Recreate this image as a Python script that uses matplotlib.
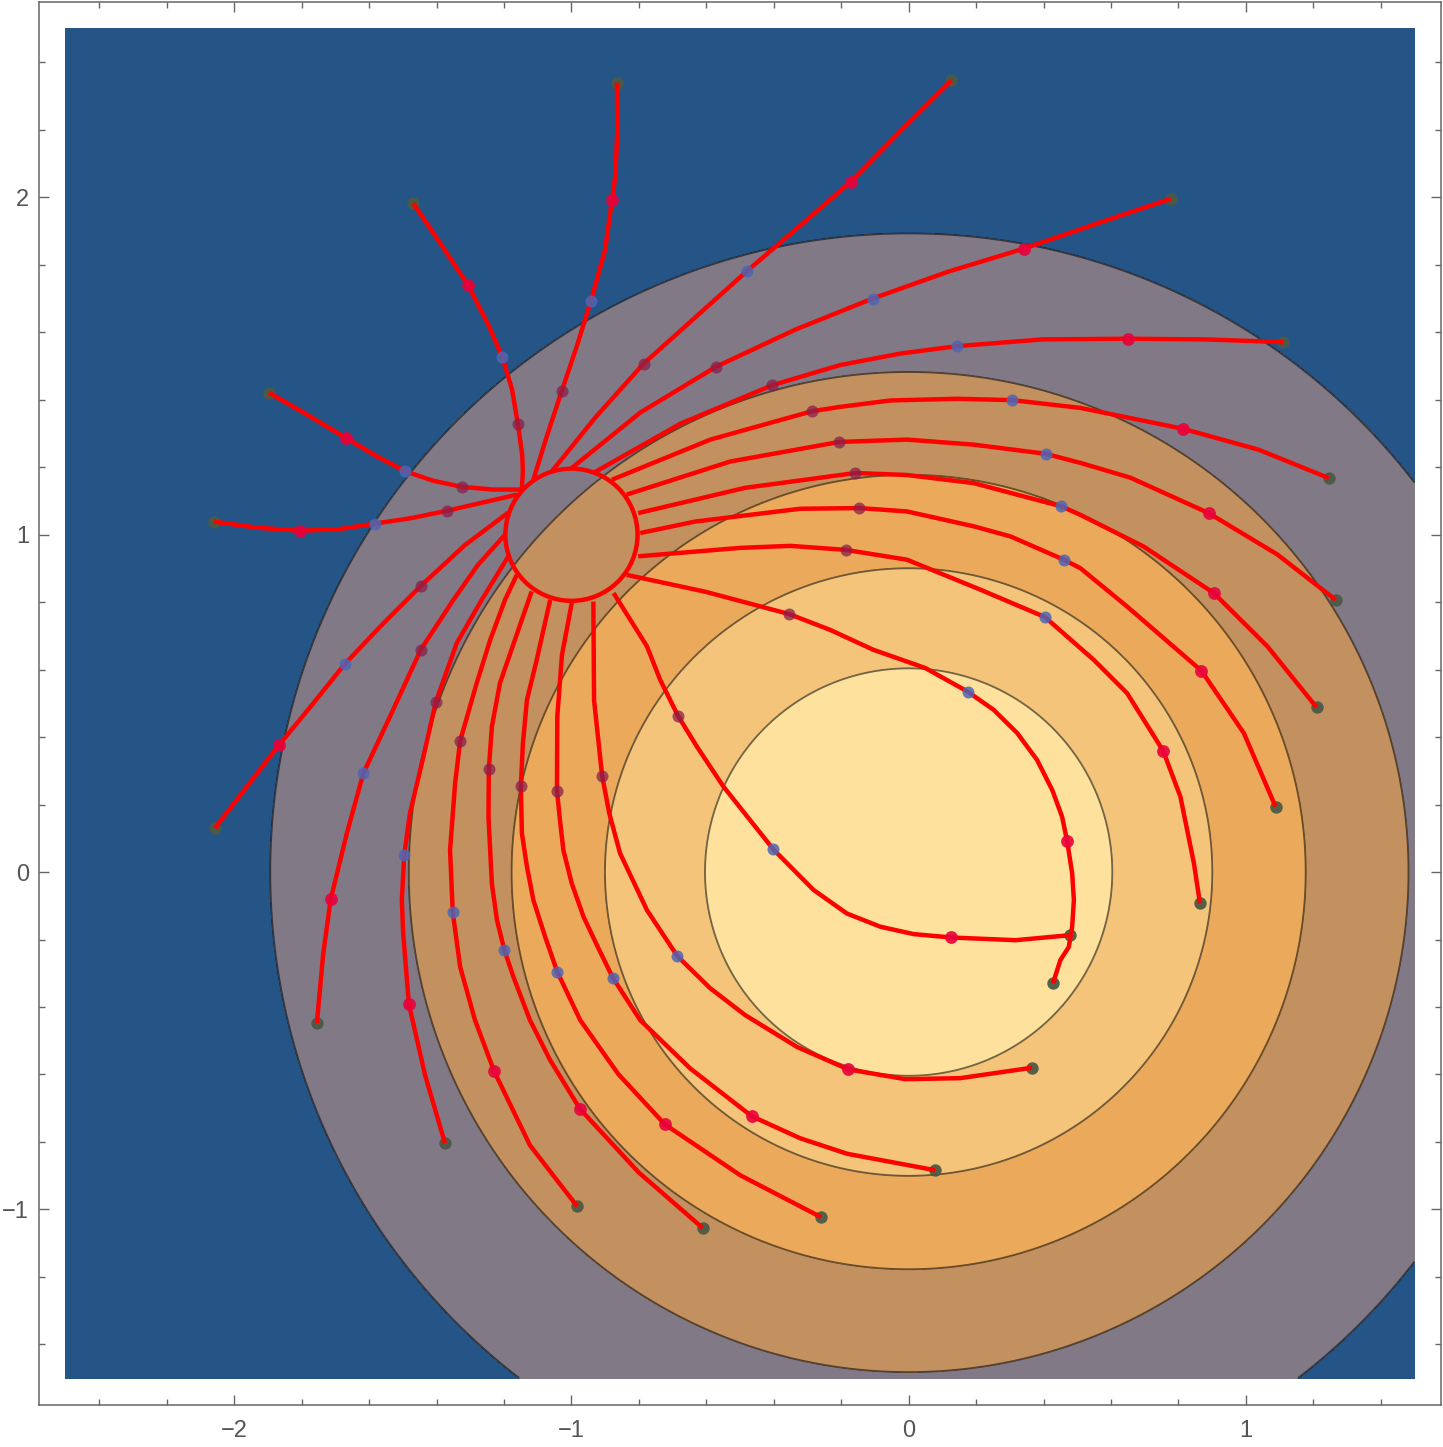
import matplotlib
matplotlib.use("Agg")
import matplotlib.pyplot as plt
import numpy as np
from matplotlib.patches import Circle
from matplotlib.ticker import MultipleLocator

plt.rcParams['font.family'] = ['Liberation Sans', 'DejaVu Sans']

# fondo: niveles del contorno y colores de relleno
levels = [0, 1/6, 2/6, 3/6, 4/6, 5/6, 1]
fill_colors = ['#255487', '#817a86', '#c3915f', '#ebaa5b', '#f4c47b', '#fee19c']

# disco objetivo
disk_center = (-1.0, 1.0)
disk_radius = 0.196

# trayectorias (inicio -> borde del disco)
A_x = [-2.057, -1.867, -1.769, -1.672, -1.559, -1.446, -1.315, -1.188]
A_y = [0.131, 0.377, 0.496, 0.617, 0.736, 0.849, 0.970, 1.065]
B_x = [-2.060, -1.933, -1.805, -1.692, -1.583, -1.476, -1.369, -1.265, -1.161]
B_y = [1.039, 1.021, 1.012, 1.016, 1.033, 1.049, 1.071, 1.095, 1.119]
C_x = [-1.897, -1.784, -1.669, -1.580, -1.493, -1.410, -1.325, -1.235, -1.147]
C_y = [1.421, 1.356, 1.287, 1.234, 1.188, 1.160, 1.142, 1.134, 1.134]
D_x = [-1.469, -1.387, -1.306, -1.247, -1.205, -1.176, -1.159, -1.146, -1.144, -1.147]
D_y = [1.982, 1.861, 1.739, 1.623, 1.527, 1.430, 1.329, 1.237, 1.187, 1.139]
E_x = [-0.865, -0.864, -0.870, -0.880, -0.900, -0.942, -0.984, -1.029, -1.073, -1.113]
E_y = [2.340, 2.192, 2.063, 1.991, 1.846, 1.694, 1.559, 1.425, 1.292, 1.163]
F_x = [0.127, -0.022, -0.171, -0.321, -0.480, -0.633, -0.786, -0.927, -1.058]
F_y = [2.347, 2.199, 2.047, 1.917, 1.781, 1.644, 1.507, 1.350, 1.188]
G_x = [0.777, 0.560, 0.341, 0.118, -0.107, -0.336, -0.571, -0.796, -0.999]
G_y = [1.996, 1.923, 1.848, 1.780, 1.700, 1.608, 1.498, 1.362, 1.198]
H_x = [1.111, 0.880, 0.650, 0.397, 0.144, -0.025, -0.203, -0.405, -0.677, -0.935]
H_y = [1.571, 1.579, 1.581, 1.579, 1.559, 1.537, 1.503, 1.443, 1.329, 1.183]
I_x = [1.246, 1.038, 0.814, 0.509, 0.307, 0.144, -0.054, -0.203, -0.287, -0.588, -0.880]
I_y = [1.168, 1.252, 1.314, 1.376, 1.399, 1.403, 1.398, 1.379, 1.366, 1.282, 1.163]
J_x = [1.266, 1.094, 0.890, 0.658, 0.509, 0.406, 0.193, -0.005, -0.206, -0.529, -0.836]
J_y = [0.807, 0.941, 1.064, 1.169, 1.213, 1.240, 1.267, 1.282, 1.275, 1.217, 1.119]
K_x = [1.210, 1.064, 0.905, 0.697, 0.509, 0.453, 0.302, 0.193, -0.005, -0.158, -0.485, -0.802]
K_y = [0.488, 0.669, 0.827, 0.965, 1.059, 1.084, 1.124, 1.153, 1.177, 1.183, 1.139, 1.064]
L_x = [1.088, 0.994, 0.868, 0.648, 0.509, 0.460, 0.302, 0.193, -0.005, -0.146, -0.321, -0.470,
       -0.633, -0.796]
L_y = [0.194, 0.412, 0.597, 0.787, 0.901, 0.926, 0.995, 1.025, 1.069, 1.079, 1.077, 1.059,
       1.039, 1.005]
M_x = [0.864, 0.846, 0.806, 0.755, 0.648, 0.549, 0.404, 0.213, -0.005, -0.186, -0.351, -0.499, -0.802]
M_y = [-0.093, 0.026, 0.223, 0.359, 0.530, 0.629, 0.756, 0.837, 0.926, 0.955, 0.967, 0.961, 0.936]
N_x = [0.480, 0.317, 0.127, 0.015, -0.084, -0.183, -0.282, -0.401, -0.549, -0.628, -0.684, -0.737,
       -0.776, -0.875]
N_y = [-0.187, -0.202, -0.194, -0.184, -0.162, -0.123, -0.053, 0.067, 0.253, 0.372, 0.463, 0.570,
       0.669, 0.827]
O_x = [0.428, 0.450, 0.475, 0.485, 0.490, 0.485, 0.470, 0.455, 0.426, 0.381, 0.322, 0.252, 0.175,
       0.049, -0.105, -0.233, -0.355, -0.603, -0.836]
O_y = [-0.330, -0.261, -0.222, -0.162, -0.083, -0.004, 0.092, 0.164, 0.243, 0.332, 0.412, 0.481, 0.535,
       0.605, 0.659, 0.718, 0.765, 0.831, 0.881]
P_x = [0.366, 0.153, -0.010, -0.179, -0.330, -0.485, -0.589, -0.686, -0.776, -0.856, -0.888, -0.909,
       -0.933, -0.935]
P_y = [-0.580, -0.611, -0.614, -0.585, -0.519, -0.424, -0.344, -0.249, -0.113, 0.056, 0.175, 0.285,
       0.510, 0.802]
W_x = [0.079, -0.183, -0.322, -0.465, -0.648, -0.796, -0.877, -0.920, -0.964, -0.999, -1.024, -1.034,
       -1.043, -1.042, -1.028, -0.999]
W_y = [-0.884, -0.835, -0.789, -0.724, -0.582, -0.439, -0.314, -0.226, -0.133, -0.034, 0.065, 0.154,
       0.241, 0.461, 0.644, 0.798]
V_x = [-0.260, -0.499, -0.723, -0.861, -0.974, -1.042, -1.078, -1.113, -1.132, -1.147, -1.150, -1.144,
       -1.132, -1.103, -1.063]
V_y = [-1.023, -0.899, -0.748, -0.599, -0.439, -0.296, -0.192, -0.083, 0.016, 0.115, 0.256, 0.381,
       0.510, 0.629, 0.807]
U_x = [-0.611, -0.801, -0.974, -1.063, -1.123, -1.172, -1.199, -1.221, -1.236, -1.246, -1.245, -1.236,
       -1.212, -1.118]
U_y = [-1.055, -0.890, -0.703, -0.558, -0.439, -0.311, -0.231, -0.142, -0.034, 0.164, 0.306, 0.431,
       0.560, 0.832]
T_x = [-0.983, -1.123, -1.229, -1.286, -1.330, -1.352, -1.360, -1.345, -1.330, -1.281, -1.241, -1.197, -1.162]
T_y = [-0.991, -0.810, -0.591, -0.439, -0.281, -0.119, 0.065, 0.263, 0.389, 0.560, 0.688, 0.807, 0.881]
S_x = [-1.375, -1.434, -1.482, -1.499, -1.503, -1.496, -1.479, -1.439, -1.402, -1.340, -1.266, -1.187]
S_y = [-0.804, -0.602, -0.392, -0.182, -0.083, 0.050, 0.174, 0.342, 0.505, 0.679, 0.807, 0.936]
R_x = [-1.755, -1.736, -1.714, -1.666, -1.617, -1.538, -1.447, -1.350, -1.277, -1.197]
R_y = [-0.448, -0.241, -0.081, 0.115, 0.293, 0.461, 0.659, 0.807, 0.911, 1.000]

# puntos marcados en cada paso
red_x = [-1.867, -1.805, -1.669, -1.306, -0.880, -0.171, 0.341, 0.650, 0.814, 0.890, 0.905,
         0.868, 0.755, 0.127, 0.470, -0.179, -0.465, -0.723, -0.974, -1.229, -1.482, -1.714]
red_y = [0.377, 1.012, 1.287, 1.739, 1.991, 2.047, 1.848, 1.581, 1.314, 1.064, 0.827,
         0.597, 0.359, -0.194, 0.092, -0.585, -0.724, -0.748, -0.703, -0.591, -0.392, -0.081]
blue_x = [-1.672, -1.583, -1.493, -1.205, -0.942, -0.480, -0.107, 0.144, 0.307, 0.406, 0.453,
          0.460, 0.404, -0.401, 0.175, -0.686, -0.877, -1.042, -1.199, -1.352, -1.496, -1.617]
blue_y = [0.617, 1.033, 1.188, 1.527, 1.694, 1.781, 1.700, 1.559, 1.399, 1.240, 1.084,
          0.926, 0.756, 0.067, 0.535, -0.249, -0.314, -0.296, -0.231, -0.119, 0.050, 0.293]
dark_x = [-1.446, -1.369, -1.325, -1.159, -1.029, -0.786, -0.571, -0.405, -0.287, -0.206, -0.158,
          -0.146, -0.186, -0.684, -0.355, -0.909, -1.043, -1.150, -1.245, -1.330, -1.402, -1.447]
dark_y = [0.849, 1.071, 1.142, 1.329, 1.425, 1.507, 1.498, 1.443, 1.366, 1.275, 1.183,
          1.079, 0.955, 0.463, 0.765, 0.285, 0.241, 0.256, 0.306, 0.389, 0.505, 0.659]

trayectorias = [(A_x, A_y), (B_x, B_y), (C_x, C_y), (D_x, D_y), (E_x, E_y), (F_x, F_y),
                (G_x, G_y), (H_x, H_y), (I_x, I_y), (J_x, J_y), (K_x, K_y), (L_x, L_y),
                (M_x, M_y), (N_x, N_y), (O_x, O_y), (P_x, P_y), (W_x, W_y), (V_x, V_y),
                (U_x, U_y), (T_x, T_y), (S_x, S_y), (R_x, R_y)]

fig = plt.figure(figsize=(14.43, 14.47), dpi=100)
ax = fig.add_axes([0.0268, 0.029, 0.9721, 0.9698])

# superficie de fondo
gx = np.linspace(-2.5, 1.5, 500)
gy = np.linspace(-1.5, 2.5, 500)
X, Y = np.meshgrid(gx, gy)
Z = np.exp(-(X**2 + Y**2) / 2)
ax.contourf(X, Y, Z, levels=levels, colors=fill_colors, zorder=1)
ax.contour(X, Y, Z, levels=levels[1:-1], colors='k', alpha=0.55, linewidths=1.3, zorder=2)

# puntos iniciales
ax.scatter([t[0][0] for t in trayectorias], [t[1][0] for t in trayectorias],
           s=80, color='#4d5a45', alpha=0.95, linewidths=0, zorder=3)

for tx, ty in trayectorias:
    ax.plot(tx, ty, color='#ff0000', lw=3.2, solid_joinstyle='round',
            solid_capstyle='butt', zorder=4)

ax.add_patch(Circle(disk_center, disk_radius, fill=False, edgecolor='#ff0000', lw=3.2, zorder=4))

ax.scatter(red_x, red_y, s=85, color='#e8003c', alpha=0.9, linewidths=0, zorder=5)
ax.scatter(blue_x, blue_y, s=75, color='#4d66b4', alpha=0.85, linewidths=0, zorder=5)
ax.scatter(dark_x, dark_y, s=75, color='#8a1f4a', alpha=0.75, linewidths=0, zorder=5)

ax.set_xlim(-2.58, 1.58)
ax.set_ylim(-1.58, 2.58)

for axis in (ax.xaxis, ax.yaxis):
    axis.set_major_locator(MultipleLocator(1))
    axis.set_minor_locator(MultipleLocator(0.2))
ax.tick_params(which='both', direction='in', top=True, right=True, color='#666666',
               width=1.0, labelsize=17, labelcolor='#555555')
ax.tick_params(which='major', length=7.2)
ax.tick_params(which='minor', length=4.3)
ax.tick_params(axis='x', pad=11)
ax.tick_params(axis='y', pad=7)
for sp in ax.spines.values():
    sp.set_color('#666666')
    sp.set_linewidth(1.1)

fig.savefig('out.png', dpi=100)
